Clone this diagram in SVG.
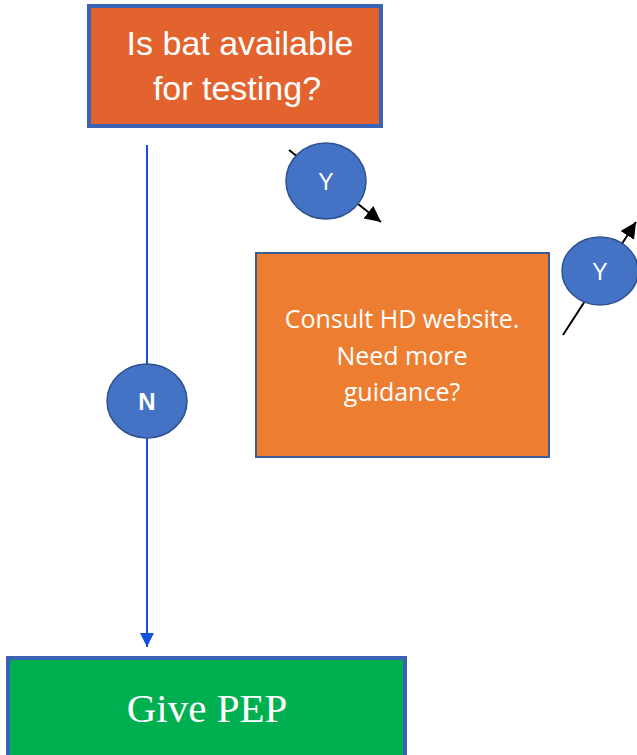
<svg xmlns="http://www.w3.org/2000/svg" width="637" height="755" viewBox="0 0 637 755">
<style>
.circ{fill:#4472C4;stroke:#2F528F;stroke-width:1.5}
.ct{fill:#fff;font-family:"Liberation Sans",Arial,sans-serif;text-anchor:middle}
.bx{stroke-width:4;stroke:#3A62B5}
.cs{fill:#fff;text-anchor:middle;font-family:"Open Sans","Noto Sans",sans-serif;font-size:25px}
</style>
<defs>
<marker id="ablue" viewBox="0 0 10 10" refX="10" refY="5" markerWidth="14" markerHeight="14" orient="auto" markerUnits="userSpaceOnUse">
<path d="M0,0 L10,5 L0,10 z" fill="#1450E0"/>
</marker>
<marker id="ablk" viewBox="0 0 10 10" refX="10" refY="5" markerWidth="16" markerHeight="16" orient="auto" markerUnits="userSpaceOnUse">
<path d="M0,0 L10,5 L0,10 z" fill="#000"/>
</marker>
</defs>
<rect width="637" height="755" fill="#fff"/>
<g id="connectors">
<line x1="147" y1="145" x2="147" y2="647" stroke="#1450E0" stroke-width="2" marker-end="url(#ablue)"/>
<line x1="289" y1="150" x2="381" y2="222" stroke="#000" stroke-width="2" marker-end="url(#ablk)"/>
<line x1="563" y1="335" x2="636" y2="222" stroke="#000" stroke-width="2" marker-end="url(#ablk)"/>
</g>
<g id="node-bat">
<rect class="bx" x="89" y="6" width="292" height="120" fill="#E3632F"/>
<text class="ct" x="240" y="55" font-size="34">Is bat available</text>
<text class="ct" x="237" y="100" font-size="34">for testing?</text>
</g>
<g id="node-consult">
<rect x="256" y="253" width="293" height="204" fill="#ED7D31" stroke="#3E5C9A" stroke-width="2"/>
<text class="cs" x="402" y="328">Consult HD website.</text>
<text class="cs" x="402" y="365">Need more</text>
<text class="cs" x="402" y="401">guidance?</text>
</g>
<g id="node-pep">
<rect class="bx" x="8" y="658" width="397" height="100" fill="#00B050"/>
<text x="207" y="722" font-size="41" fill="#fff" text-anchor="middle" font-family="'Liberation Serif','Times New Roman',serif">Give PEP</text>
</g>
<g id="label-y1">
<ellipse class="circ" cx="326" cy="181" rx="40" ry="38"/>
<text class="ct" x="326" y="190" font-size="23">Y</text>
</g>
<g id="label-y2">
<ellipse class="circ" cx="600" cy="271" rx="38" ry="34"/>
<text class="ct" x="600" y="280" font-size="23">Y</text>
</g>
<g id="label-n">
<ellipse class="circ" cx="147" cy="401" rx="40" ry="37"/>
<text class="ct" x="147" y="410" font-size="24" font-weight="bold">N</text>
</g>
</svg>
